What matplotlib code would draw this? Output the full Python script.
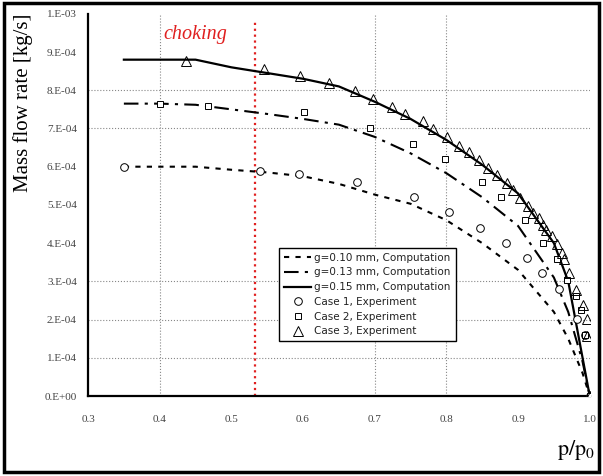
import numpy as np
import matplotlib
matplotlib.use("Agg")
import matplotlib.pyplot as plt
from matplotlib.patches import Rectangle

plt.rcParams['mathtext.fontset'] = 'stix'

# computation curves (p/p0, mass flow rate in 1e-4 kg/s)
p_comp = [0.35, 0.40, 0.45, 0.50, 0.55, 0.60, 0.65, 0.70, 0.75, 0.80, 0.85, 0.90, 0.95, 0.97, 0.99, 1.00]
m_g010 = [6.00, 6.00, 6.00, 5.92, 5.85, 5.75, 5.55, 5.27, 5.03, 4.60, 4.00, 3.30, 2.20, 1.50, 0.60, 0.00]
m_g013 = [7.65, 7.65, 7.62, 7.50, 7.38, 7.25, 7.10, 6.78, 6.35, 5.83, 5.20, 4.45, 3.10, 2.20, 0.90, 0.00]
m_g015 = [8.80, 8.80, 8.80, 8.60, 8.45, 8.30, 8.10, 7.70, 7.25, 6.70, 6.05, 5.30, 4.00, 3.00, 1.00, 0.00]

# experiments
p_case1 = [0.35, 0.54, 0.595, 0.675, 0.755, 0.803, 0.847, 0.883, 0.912, 0.934, 0.957, 0.982, 0.993, 1.0]
m_case1 = [6.00, 5.90, 5.82, 5.61, 5.22, 4.81, 4.39, 4.00, 3.60, 3.21, 2.80, 2.01, 1.60, 0.0]

p_case2 = [0.40, 0.468, 0.601, 0.694, 0.753, 0.798, 0.850, 0.876, 0.909, 0.935, 0.955, 0.968, 0.981, 0.988, 0.993, 1.0]
m_case2 = [7.64, 7.60, 7.42, 7.01, 6.59, 6.20, 5.61, 5.20, 4.61, 4.00, 3.58, 3.04, 2.62, 2.25, 1.60, 0.0]

p_case3 = [0.437, 0.545, 0.596, 0.636, 0.672, 0.697, 0.724, 0.742, 0.767, 0.781, 0.801, 0.817,
           0.831, 0.845, 0.858, 0.870, 0.884, 0.893, 0.903, 0.914, 0.921, 0.929, 0.935,
           0.939, 0.947, 0.954, 0.961, 0.964, 0.971, 0.981, 0.990, 0.996, 0.996, 1.0]
m_case3 = [8.77, 8.56, 8.38, 8.19, 7.97, 7.77, 7.57, 7.38, 7.20, 6.99, 6.78, 6.54,
           6.39, 6.18, 5.97, 5.79, 5.58, 5.39, 5.18, 4.97, 4.79, 4.66, 4.48,
           4.35, 4.19, 3.98, 3.74, 3.59, 3.22, 2.77, 2.38, 2.02, 1.57, 0.0]

x_ticks = [0.3, 0.4, 0.5, 0.6, 0.7, 0.8, 0.9, 1.0]
y_ticks = [0, 1, 2, 3, 4, 5, 6, 7, 8, 9, 10]
y_labels = ['0.E+00', '1.E-04', '2.E-04', '3.E-04', '4.E-04', '5.E-04',
            '6.E-04', '7.E-04', '8.E-04', '9.E-04', '1.E-03']
x_grid = [0.4, 0.7, 0.8]
y_grid = [1, 2, 3, 7, 8]
p_choke = 0.533

scale = 1e-4

fig = plt.figure(figsize=(6.03, 4.76), dpi=100)
ax = fig.add_axes([0.146, 0.168, 0.832, 0.803])

for xg in x_grid:
    ax.axvline(xg, color='#888888', ls=':', lw=0.8, zorder=1)
for yg in y_grid:
    ax.axhline(yg * scale, color='#888888', ls=':', lw=0.8, zorder=1)
ax.axvline(p_choke, ymin=0.0, ymax=0.985, color='#e02020', ls=':', lw=1.6, zorder=1)

ax.plot(p_comp, np.array(m_g010) * scale, color='black', lw=1.5, ls=(0, (2.5, 3)),
        label='g=0.10 mm, Computation', zorder=3)
ax.plot(p_comp, np.array(m_g013) * scale, color='black', lw=1.5, ls=(0, (7, 3, 1.5, 3)),
        label='g=0.13 mm, Computation', zorder=3)
ax.plot(p_comp, np.array(m_g015) * scale, color='black', lw=1.6, ls='-',
        label='g=0.15 mm, Computation', zorder=3)

ax.plot(p_case1, np.array(m_case1) * scale, ls='none', marker='o', ms=5.5, mfc='white',
        mec='black', mew=0.7, label='Case 1, Experiment', zorder=4)
ax.plot(p_case2, np.array(m_case2) * scale, ls='none', marker='s', ms=5, mfc='white',
        mec='black', mew=0.7, label='Case 2, Experiment', zorder=4)
ax.plot(p_case3, np.array(m_case3) * scale, ls='none', marker='^', ms=6.5, mfc='none',
        mec='black', mew=0.7, label='Case 3, Experiment', zorder=5)

ax.set_xlim(0.3, 1.0)
ax.set_ylim(0, 10 * scale)
ax.set_xticks(x_ticks)
ax.set_xticklabels(['%.1f' % v for v in x_ticks], family='Liberation Serif', fontsize=8)
ax.set_yticks(np.array(y_ticks) * scale)
ax.set_yticklabels(y_labels, family='Liberation Serif', fontsize=8)
ax.tick_params(length=0, pad=8, colors='#444444')
ax.tick_params(axis='x', pad=14)

for s in ['top', 'right']:
    ax.spines[s].set_visible(False)
for s in ['left', 'bottom']:
    ax.spines[s].set_linewidth(1.6)
ax.patch.set_alpha(0)

fig.text(0.038, 0.785, 'Mass flow rate [kg/s]', rotation=90, ha='center', va='center',
         family='Liberation Serif', fontsize=15)
fig.text(0.955, 0.055, r'$\mathrm{p/p_0}$', ha='center', va='center', fontsize=16)
ax.text(0.449, 9.45 * scale, 'choking', color='#e02020', style='italic',
        family='Liberation Serif', fontsize=14.5, ha='center', va='center')

leg = ax.legend(loc='upper left', bbox_to_anchor=(0.37, 0.402), frameon=True,
                fancybox=False, edgecolor='black', fontsize=7.5, handlelength=2.6,
                handletextpad=0.3, labelspacing=0.45, borderpad=0.5, framealpha=1)
leg.get_frame().set_linewidth(1.0)
for t in leg.get_texts():
    t.set_color('#222222')

fig.patches.append(Rectangle((0.006, 0.008), 0.988, 0.985, transform=fig.transFigure,
                             fill=False, edgecolor='black', lw=2.5))

fig.savefig('out.png', dpi=100)
